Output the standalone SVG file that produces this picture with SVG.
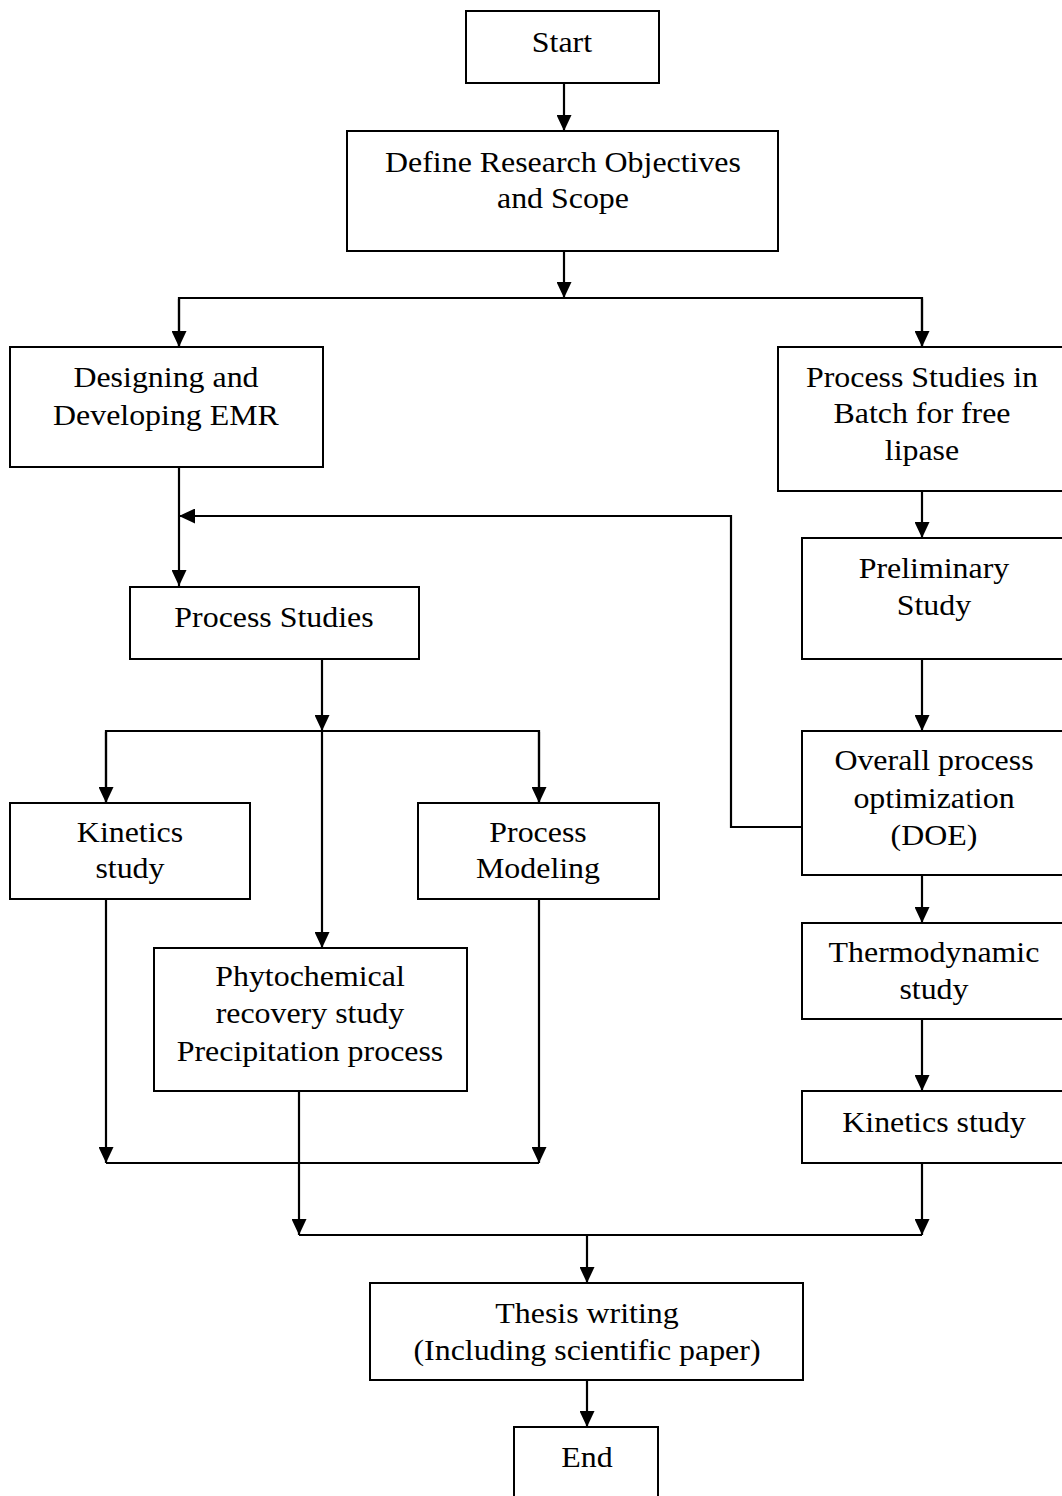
<svg xmlns="http://www.w3.org/2000/svg" width="1062" height="1496" viewBox="0 0 1062 1496">
<style>
.box{fill:#fff;stroke:#000;stroke-width:2}
.t{font-family:"Liberation Serif","Times New Roman",serif;font-size:29px;fill:#000;text-anchor:middle;transform-box:fill-box;transform-origin:center;transform:scaleX(1.1)}
.c{fill:none;stroke:#000;stroke-width:2.2}
</style>
<defs>
<marker id="ah" viewBox="0 0 16 15" refX="16" refY="7.5" markerWidth="16" markerHeight="15" markerUnits="userSpaceOnUse" orient="auto">
<path d="M0,0 L16,7.5 L0,15 Z" fill="#000"/>
</marker>
</defs>
<g id="connectors">
<line class="c" x1="564" y1="83" x2="564" y2="131" marker-end="url(#ah)"/>
<line class="c" x1="564" y1="251" x2="564" y2="298" marker-end="url(#ah)"/>
<polyline class="c" points="179,347 179,298 922,298 922,347"/>
<line class="c" x1="179" y1="299" x2="179" y2="347" marker-end="url(#ah)"/>
<line class="c" x1="922" y1="299" x2="922" y2="347" marker-end="url(#ah)"/>
<line class="c" x1="179" y1="467" x2="179" y2="586" marker-end="url(#ah)"/>
<polyline class="c" points="802,827 731,827 731,516 179,516" marker-end="url(#ah)"/>
<line class="c" x1="922" y1="491" x2="922" y2="538" marker-end="url(#ah)"/>
<line class="c" x1="922" y1="659" x2="922" y2="731" marker-end="url(#ah)"/>
<line class="c" x1="922" y1="875" x2="922" y2="923" marker-end="url(#ah)"/>
<line class="c" x1="922" y1="1019" x2="922" y2="1091" marker-end="url(#ah)"/>
<line class="c" x1="322" y1="659" x2="322" y2="731" marker-end="url(#ah)"/>
<polyline class="c" points="106,803 106,731 539,731 539,803"/>
<line class="c" x1="106" y1="732" x2="106" y2="803" marker-end="url(#ah)"/>
<line class="c" x1="539" y1="732" x2="539" y2="803" marker-end="url(#ah)"/>
<line class="c" x1="322" y1="732" x2="322" y2="948" marker-end="url(#ah)"/>
<line class="c" x1="106" y1="899" x2="106" y2="1163" marker-end="url(#ah)"/>
<line class="c" x1="539" y1="899" x2="539" y2="1163" marker-end="url(#ah)"/>
<line class="c" x1="106" y1="1163" x2="539" y2="1163"/>
<line class="c" x1="299" y1="1091" x2="299" y2="1235" marker-end="url(#ah)"/>
<line class="c" x1="922" y1="1163" x2="922" y2="1235" marker-end="url(#ah)"/>
<line class="c" x1="299" y1="1235" x2="922" y2="1235"/>
<line class="c" x1="587" y1="1235" x2="587" y2="1283" marker-end="url(#ah)"/>
<line class="c" x1="587" y1="1380" x2="587" y2="1427" marker-end="url(#ah)"/>
</g>
<g id="start"><rect class="box" x="466" y="11" width="193" height="72"/><text class="t" x="562" y="52">Start</text></g>
<g id="define"><rect class="box" x="347" y="131" width="431" height="120"/><text class="t" x="563" y="172">Define Research Objectives</text><text class="t" x="563" y="208">and Scope</text></g>
<g id="designing"><rect class="box" x="10" y="347" width="313" height="120"/><text class="t" x="166" y="387">Designing and</text><text class="t" x="166" y="425">Developing EMR</text></g>
<g id="batch"><rect class="box" x="778" y="347" width="288" height="144"/><text class="t" x="922" y="387">Process Studies in</text><text class="t" x="922" y="423">Batch for free</text><text class="t" x="922" y="460">lipase</text></g>
<g id="process-studies"><rect class="box" x="130" y="587" width="289" height="72"/><text class="t" x="274" y="627">Process Studies</text></g>
<g id="preliminary"><rect class="box" x="802" y="538" width="264" height="121"/><text class="t" x="934" y="578">Preliminary</text><text class="t" x="934" y="615">Study</text></g>
<g id="overall"><rect class="box" x="802" y="731" width="264" height="144"/><text class="t" x="934" y="770">Overall process</text><text class="t" x="934" y="808">optimization</text><text class="t" x="934" y="845">(DOE)</text></g>
<g id="kinetics-left"><rect class="box" x="10" y="803" width="240" height="96"/><text class="t" x="130" y="842">Kinetics</text><text class="t" x="130" y="878">study</text></g>
<g id="modeling"><rect class="box" x="418" y="803" width="241" height="96"/><text class="t" x="538" y="842">Process</text><text class="t" x="538" y="878">Modeling</text></g>
<g id="phyto"><rect class="box" x="154" y="948" width="313" height="143"/><text class="t" x="310" y="986">Phytochemical</text><text class="t" x="310" y="1023">recovery study</text><text class="t" x="310" y="1061">Precipitation process</text></g>
<g id="thermo"><rect class="box" x="802" y="923" width="264" height="96"/><text class="t" x="934" y="962">Thermodynamic</text><text class="t" x="934" y="999">study</text></g>
<g id="kinetics-right"><rect class="box" x="802" y="1091" width="264" height="72"/><text class="t" x="934" y="1132">Kinetics study</text></g>
<g id="thesis"><rect class="box" x="370" y="1283" width="433" height="97"/><text class="t" x="587" y="1323">Thesis writing</text><text class="t" x="587" y="1360">(Including scientific paper)</text></g>
<g id="end"><rect class="box" x="514" y="1427" width="144" height="80"/><text class="t" x="587" y="1467">End</text></g>
</svg>
